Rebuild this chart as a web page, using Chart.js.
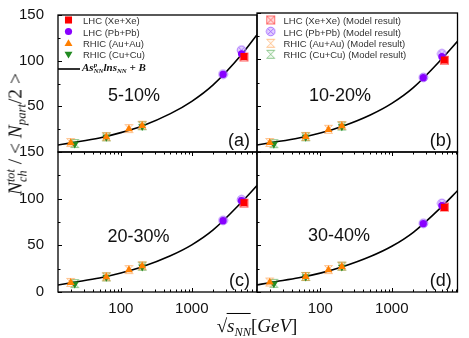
<!DOCTYPE html>
<html><head><meta charset="utf-8">
<script src="https://cdn.jsdelivr.net/npm/chart.js@4.4.1/dist/chart.umd.min.js"></script>
<style>
html,body{margin:0;padding:0;background:#fff;}
#wrap{position:relative;width:469px;height:338px;overflow:hidden;font-family:"Liberation Sans",Arial,sans-serif;}
#wrap canvas{position:absolute;left:0;top:0;}
.t{position:absolute;white-space:nowrap;color:#111;line-height:1;}
.lg{font-size:9.5px;color:#333;}
.pc{font-size:18px;}
.serif{font-family:"Liberation Serif","Times New Roman",serif;}
.stk{display:inline-block;vertical-align:middle;line-height:0.95;font-size:0.62em;text-align:left;}
.stk span{display:block;}
</style></head><body>
<div id="wrap">
<canvas id="ca" width="469" height="338"></canvas>
<canvas id="cb" width="469" height="338"></canvas>
<canvas id="cc" width="469" height="338"></canvas>
<canvas id="cd" width="469" height="338"></canvas>

<div class="t lg" style="left:83px;top:16px">LHC (Xe+Xe)</div>
<div class="t lg" style="left:83px;top:27.7px">LHC (Pb+Pb)</div>
<div class="t lg" style="left:83px;top:39px">RHIC (Au+Au)</div>
<div class="t lg" style="left:83px;top:50px">RHIC (Cu+Cu)</div>
<div class="t serif" style="left:82px;top:62px;font-size:11px;font-weight:bold;font-style:italic;">As<span class="stk"><span>p</span><span>NN</span></span>lns<span style="font-size:0.62em;vertical-align:-0.3em">NN</span> + B</div>

<div class="t lg" style="left:283.5px;top:16px">LHC (Xe+Xe) (Model result)</div>
<div class="t lg" style="left:283.5px;top:27.7px">LHC (Pb+Pb) (Model result)</div>
<div class="t lg" style="left:283.5px;top:39px">RHIC (Au+Au) (Model result)</div>
<div class="t lg" style="left:283.5px;top:50px">RHIC (Cu+Cu) (Model result)</div>

<div class="t pc" style="left:108px;top:86px">5-10%</div>
<div class="t pc" style="left:309px;top:86px">10-20%</div>
<div class="t pc" style="left:107.5px;top:226.5px">20-30%</div>
<div class="t pc" style="left:308px;top:226px">30-40%</div>

<div class="t pc" style="right:219px;top:131px">(a)</div>
<div class="t pc" style="right:17.3px;top:131px">(b)</div>
<div class="t pc" style="right:219px;top:271px">(c)</div>
<div class="t pc" style="right:17.3px;top:271px">(d)</div>

<div class="t serif" id="ytitle" style="left:17px;top:134px;font-size:19.5px;transform:translate(-50%,-50%) rotate(-90deg);"><i>N</i><span class="stk"><span><i>tot</i></span><span><i>ch</i></span></span> / &lt; <i>N</i><span style="font-size:0.65em;vertical-align:-0.3em"><i>part</i></span>/2 &gt;</div>
<div class="t serif" style="left:257px;top:327px;font-size:19px;transform:translate(-50%,-50%);">√<span style="border-top:1px solid #000;padding-top:1px"><i>s</i><span style="font-size:0.65em;vertical-align:-0.3em"><i>NN</i></span></span>[<i>GeV</i>]</div>
</div>

<script>
// ---- data ----
const xAuAu = [19.6, 62.4, 130, 200];
const xCuCu = [22.4, 62.4, 200];
const xPbPb = [2760, 5020];
const xXeXe = [5440];
const xFit  = [13, 20, 50, 100, 200, 500, 1000, 2000, 5000, 8300];

const xLabelValues = [100, 1000];
const yLabelValues = [0, 50, 100, 150];
const xTickValues = [20,30,40,50,60,70,80,90,100,200,300,400,500,600,700,800,900,1000,2000,3000,4000,5000,6000,7000,8000];
const yTickValues = [0,25,50,75,100,125,150];

// panel (a) 5-10%
const auau_a = [10.0, 16.5, 25.2, 28.8];
const cucu_a = [8.8, 16.3, 28.0];
const pbpb_a = [84.9, 107.6];
const xexe_a = [104.5];
const mAuau_a = [10.4, 16.8, 25.6, 29.3];
const mCucu_a = [9.3, 16.6, 28.8];
const mPbpb_a = [85.2, 111.5];
const mXexe_a = [104.0];
const fit_a = [7.6, 10.0, 15.4, 21.2, 28.5, 42.0, 55.5, 73.5, 106.5, 128.5];

// panel (b) 10-20%
const auau_b = [10.0, 16.5, 24.1, 28.2];
const cucu_b = [8.6, 16.0, 27.4];
const pbpb_b = [80.2, 102.9];
const xexe_b = [99.3];
const mAuau_b = [10.3, 16.8, 24.5, 28.6];
const mCucu_b = [9.0, 16.4, 28.0];
const mPbpb_b = [80.5, 106.0];
const mXexe_b = [99.0];
const fit_b = [7.6, 10.0, 15.2, 20.6, 27.6, 40.0, 52.5, 69.5, 100.5, 119.5];

// panel (c) 20-30%
const auau_c = [10.0, 16.1, 23.6, 27.8];
const cucu_c = [8.6, 15.8, 27.0];
const pbpb_c = [76.4, 97.9];
const xexe_c = [95.7];
const mAuau_c = [10.3, 16.4, 24.0, 28.2];
const mCucu_c = [9.0, 16.2, 27.6];
const mPbpb_c = [76.8, 98.8];
const mXexe_c = [95.2];
const fit_c = [7.5, 10.0, 15.0, 20.3, 27.0, 38.8, 50.5, 66.5, 96.0, 114.0];

// panel (d) 30-40%
const auau_d = [10.4, 16.4, 23.6, 27.1];
const cucu_d = [8.9, 16.2, 26.8];
const pbpb_d = [73.2, 92.5];
const xexe_d = [90.7];
const mAuau_d = [10.7, 16.7, 24.0, 27.8];
const mCucu_d = [9.3, 16.6, 27.6];
const mPbpb_d = [73.6, 95.0];
const mXexe_d = [91.0];
const fit_d = [7.5, 10.2, 15.2, 20.2, 26.8, 38.0, 49.0, 64.0, 91.5, 108.5];

// ---- styles ----
const C_XE = '#ff0000', C_PB = '#8800ff', C_AU = '#ff7f00', C_CU = '#228b22';

function modelMarker(kind, stroke, fill){
  const c = document.createElement('canvas'); c.width = 11; c.height = 11;
  const g = c.getContext('2d'); g.strokeStyle = stroke; g.fillStyle = fill; g.lineWidth = 1;
  if (kind === 'rect') {
    g.fillRect(1.5,1.5,8,8); g.strokeRect(1.5,1.5,8,8);
    g.beginPath(); g.moveTo(1.5,1.5); g.lineTo(9.5,9.5); g.moveTo(9.5,1.5); g.lineTo(1.5,9.5); g.stroke();
  } else if (kind === 'circle') {
    g.beginPath(); g.arc(5.5,5.5,4.3,0,Math.PI*2); g.fill(); g.stroke();
    g.beginPath(); g.moveTo(2.5,2.5); g.lineTo(8.5,8.5); g.moveTo(8.5,2.5); g.lineTo(2.5,8.5); g.stroke();
  } else {
    g.beginPath(); g.moveTo(1.5,1.5); g.lineTo(9.5,1.5); g.lineTo(1.5,9.5); g.lineTo(9.5,9.5); g.closePath(); g.fill(); g.stroke();
  }
  return c;
}
const M_XE = modelMarker('rect','rgba(255,60,60,0.7)','rgba(255,170,170,0.45)');
const M_PB = modelMarker('circle','rgba(150,80,255,0.75)','rgba(200,170,255,0.55)');
const M_AU = modelMarker('hour','rgba(255,140,40,0.5)','rgba(255,190,120,0.12)');
const M_CU = modelMarker('hour','rgba(40,150,40,0.5)','rgba(120,200,120,0.12)');

function pts(xs, ys){ return xs.map((x,i)=>({x:x, y:ys[i]})); }

function drawMark(ctx, style, r, rotDeg, x, y){
  ctx.beginPath();
  if (style === 'rect') { const s = r/Math.SQRT2; ctx.rect(x-s, y-s, 2*s, 2*s); }
  else if (style === 'circle') { ctx.arc(x, y, r, 0, Math.PI*2); }
  else { let rad = rotDeg*Math.PI/180; for (let k=0;k<3;k++){ const px = x+Math.sin(rad)*r, py = y-Math.cos(rad)*r; k?ctx.lineTo(px,py):ctx.moveTo(px,py); rad += 2*Math.PI/3; } ctx.closePath(); }
  ctx.fill();
}

function framePlugin(xDown){
  return { id:'frame', afterDraw(chart){
    const ctx = chart.ctx, a = chart.chartArea, x = chart.scales.x, y = chart.scales.y;
    ctx.save(); ctx.strokeStyle = '#000';
    ctx.lineWidth = 1;
    ctx.beginPath();
    yTickValues.forEach(v=>{ const py = Math.round(y.getPixelForValue(v))+0.5; const len = v%50===0?4:2.5; ctx.moveTo(a.left,py); ctx.lineTo(a.left+len,py); });
    xTickValues.forEach(v=>{ const px = Math.round(x.getPixelForValue(v))+0.5; const len = (v===100||v===1000)?4:2.5; const d = xDown?1:-1; ctx.moveTo(px,a.bottom); ctx.lineTo(px,a.bottom+d*len); });
    ctx.stroke();
    ctx.lineWidth = 1.3;
    ctx.strokeRect(a.left, a.top, a.right-a.left, a.bottom-a.top);
    ctx.restore();
  }};
}

function legendPlugin(items){
  return { id:'legendMarks', afterDraw(chart){
    const ctx = chart.ctx; ctx.save();
    items.forEach(it=>{
      if (it.img) ctx.drawImage(it.img, it.x-it.img.width/2, it.y-it.img.height/2);
      else if (it.line) { ctx.strokeStyle='#000'; ctx.lineWidth=1.6; ctx.beginPath(); ctx.moveTo(it.x0,it.y); ctx.lineTo(it.x1,it.y); ctx.stroke(); }
      else { ctx.fillStyle = it.color; drawMark(ctx, it.style, it.r, it.rot||0, it.x, it.y); }
    });
    ctx.restore();
  }};
}

function makePanel(id, box, showX, showY, hideZero, d, extraPlugins){
  const font = {family:'Liberation Sans', size:15};
  const yW = showY ? box.l : 0;
  const xH = showX ? 338 - box.b : 0;
  return new Chart(document.getElementById(id), {
    type:'line',
    data:{ datasets:[
      {data:pts(xXeXe,d.xe), showLine:false, pointStyle:'rect', pointRadius:5, backgroundColor:C_XE, borderWidth:0},
      {data:pts(xPbPb,d.pb), showLine:false, pointStyle:'circle', pointRadius:3.6, backgroundColor:C_PB, borderWidth:0},
      {data:pts(xAuAu,d.au), showLine:false, pointStyle:'triangle', pointRadius:4.6, backgroundColor:C_AU, borderWidth:0},
      {data:pts(xCuCu,d.cu), showLine:false, pointStyle:'triangle', pointRotation:180, pointRadius:4.6, backgroundColor:C_CU, borderWidth:0},
      {data:pts(xXeXe,d.mxe), showLine:false, pointStyle:M_XE, pointRadius:5},
      {data:pts(xPbPb,d.mpb), showLine:false, pointStyle:M_PB, pointRadius:5},
      {data:pts(xAuAu,d.mau), showLine:false, pointStyle:M_AU, pointRadius:5},
      {data:pts(xCuCu,d.mcu), showLine:false, pointStyle:M_CU, pointRadius:5},
      {data:pts(xFit,d.fit), showLine:true, pointRadius:0, borderColor:'#000', borderWidth:1.6, cubicInterpolationMode:'monotone', fill:false}
    ]},
    options:{
      responsive:false, animation:false, events:[],
      layout:{padding:{left:box.l - yW, top:box.t, right:469-box.r, bottom:338-box.b-xH}},
      plugins:{legend:{display:false}, tooltip:{enabled:false}},
      scales:{
        x:{type:'logarithmic', min:13, max:8300, position:'bottom',
           grid:{display:false}, border:{display:false},
           ticks:{display:showX, font:font, color:'#111', padding:0, maxRotation:0, autoSkip:false, callback:v=>String(v)},
           afterBuildTicks:s=>{ s.ticks = xLabelValues.map(v=>({value:v})); },
           afterFit:s=>{ s.height = xH; }},
        y:{type:'linear', min:0, max:150, position:'left',
           grid:{display:false}, border:{display:false},
           ticks:{display:showY, font:font, color:'#111', padding:6, callback:v=>(hideZero&&v===0)?'':String(v)},
           afterBuildTicks:s=>{ s.ticks = yLabelValues.map(v=>({value:v})); },
           afterFit:s=>{ s.width = yW; }}
      }
    },
    plugins:[framePlugin(box.xDown)].concat(extraPlugins||[])
  });
}

const legA = legendPlugin([
  {style:'rect', r:5, color:C_XE, x:68.5, y:20},
  {style:'circle', r:3.6, color:C_PB, x:68.5, y:31.5},
  {style:'triangle', r:4.6, color:C_AU, x:68.5, y:43.8},
  {style:'triangle', r:4.6, rot:180, color:C_CU, x:68.5, y:54},
  {line:true, x0:58, x1:80, y:69}
]);
const legB = legendPlugin([
  {img:M_XE, x:270.7, y:20},
  {img:M_PB, x:270.7, y:31.5},
  {img:M_AU, x:270.7, y:43.3},
  {img:M_CU, x:270.7, y:54.3}
]);

makePanel('ca', {l:58, t:13, r:257, b:152, xDown:true}, false, true, true,
  {xe:xexe_a, pb:pbpb_a, au:auau_a, cu:cucu_a, mxe:mXexe_a, mpb:mPbpb_a, mau:mAuau_a, mcu:mCucu_a, fit:fit_a}, [legA]);
makePanel('cb', {l:257, t:13, r:457.5, b:152, xDown:true}, false, false, true,
  {xe:xexe_b, pb:pbpb_b, au:auau_b, cu:cucu_b, mxe:mXexe_b, mpb:mPbpb_b, mau:mAuau_b, mcu:mCucu_b, fit:fit_b}, [legB]);
makePanel('cc', {l:58, t:152, r:257, b:292, xDown:false}, true, true, false,
  {xe:xexe_c, pb:pbpb_c, au:auau_c, cu:cucu_c, mxe:mXexe_c, mpb:mPbpb_c, mau:mAuau_c, mcu:mCucu_c, fit:fit_c});
makePanel('cd', {l:257, t:152, r:457.5, b:292, xDown:false}, true, false, false,
  {xe:xexe_d, pb:pbpb_d, au:auau_d, cu:cucu_d, mxe:mXexe_d, mpb:mPbpb_d, mau:mAuau_d, mcu:mCucu_d, fit:fit_d});
</script>
</body></html>
